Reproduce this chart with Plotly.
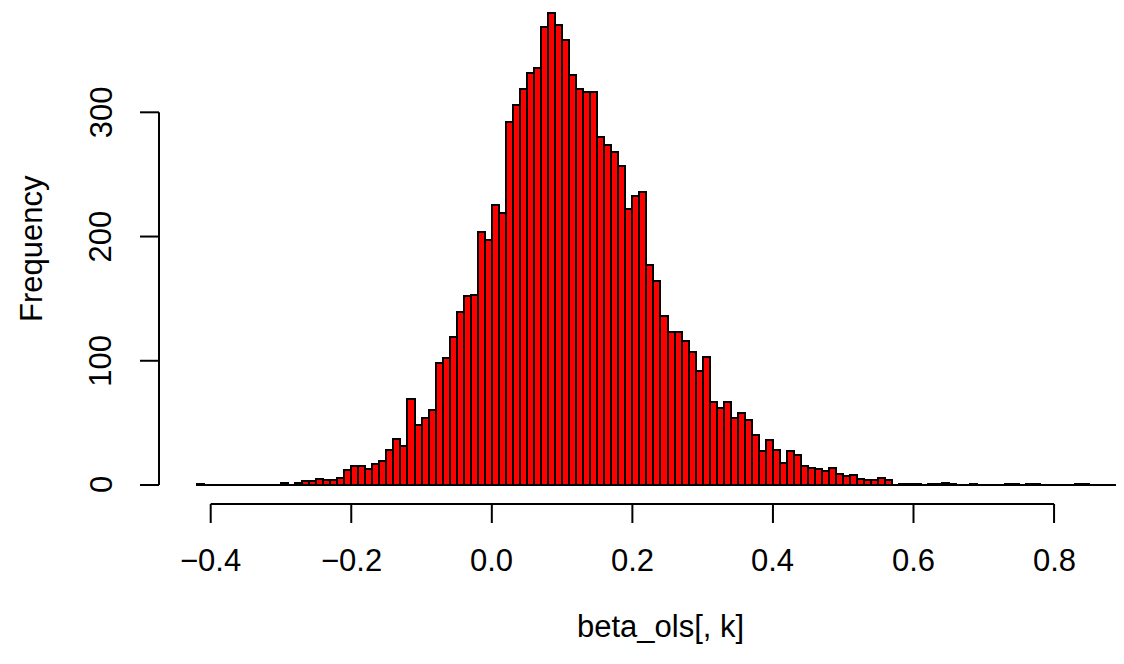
import plotly.graph_objects as go

# ---------------- data ----------------
bin_width = 0.01
bin_start = -0.42
counts = [
    1, 0, 0, 0, 0, 0, 0, 0, 0, 0, 0, 0,          # -0.42 .. -0.31
    2, 0, 2, 3, 3, 5, 4, 4, 6, 12,               # -0.30 .. -0.21
    15, 15, 13, 17, 19, 28, 37, 31, 69, 48,      # -0.20 .. -0.11
    54, 60, 98, 102, 119, 139, 152, 153, 204, 197,  # -0.10 .. -0.01
    225, 219, 292, 306, 319, 332, 336, 369, 380, 370,  # 0.00 .. 0.09
    358, 330, 319, 316, 316, 280, 274, 268, 257, 222,  # 0.10 .. 0.19
    233, 236, 177, 164, 136, 123, 123, 116, 107, 92,   # 0.20 .. 0.29
    103, 67, 62, 67, 54, 58, 52, 40, 27, 36,           # 0.30 .. 0.39
    28, 18, 27, 24, 15, 14, 13, 11, 14, 9,             # 0.40 .. 0.49
    7, 8, 5, 4, 4, 6, 4, 0, 1, 1,                      # 0.50 .. 0.59
    1, 0, 1, 1, 2, 1, 0, 0, 1, 0,                      # 0.60 .. 0.69
    0, 0, 0, 1, 1, 0, 1, 1, 0, 0,                      # 0.70 .. 0.79
    0, 0, 0, 1, 1, 0, 0, 0, 0, 0,                      # 0.80 .. 0.89
]
x_ticks = [-0.4, -0.2, 0.0, 0.2, 0.4, 0.6, 0.8]
x_tick_labels = ["\u22120.4", "\u22120.2", "0.0", "0.2", "0.4", "0.6", "0.8"]
y_ticks = [0, 100, 200, 300]
y_tick_labels = ["0", "100", "200", "300"]
x_title = "beta_ols[, k]"
y_title = "Frequency"

centers = [round(bin_start + bin_width * (i + 0.5), 4) for i in range(len(counts))]
bin_end = round(bin_start + bin_width * len(counts), 4)

# ---------------- geometry ----------------
W, H = 1124, 664
OFF = 8                 # page body margin in the browser
PX_X0, PX_PER_X = 210.7, 702.8     # screen px of x=-0.4, px per unit
PX_Y0, PX_PER_Y = 485.0, 1.2423    # screen px of y=0, px per count


def dx(sx):
    """screen pixel x -> data x"""
    return -0.4 + (sx - PX_X0) / PX_PER_X


def dy(sy):
    """screen pixel y -> data y"""
    return (PX_Y0 - sy) / PX_PER_Y


X_RANGE = [dx(OFF), dx(OFF + W)]
Y_RANGE = [dy(OFF + H), dy(OFF)]

FONT = "Liberation Sans, Arial, Helvetica, sans-serif"
FS = 31

fig = go.Figure()
fig.add_trace(go.Bar(
    x=centers, y=counts, width=bin_width,
    marker=dict(color="#FF0000", line=dict(color="black", width=2)),
    hoverinfo="x+y", showlegend=False,
))

shapes = []
shapes.append(dict(type="line", xref="x", yref="y", x0=bin_start, x1=bin_end,
                   y0=0, y1=0, line=dict(color="black", width=2), layer="above"))
# x axis
shapes.append(dict(type="line", xref="x", yref="y", x0=x_ticks[0], x1=x_ticks[-1],
                   y0=dy(504), y1=dy(504), line=dict(color="black", width=2)))
for t in x_ticks:
    shapes.append(dict(type="line", xref="x", yref="y", x0=t, x1=t,
                       y0=dy(504), y1=dy(523), line=dict(color="black", width=2)))
# y axis
shapes.append(dict(type="line", xref="x", yref="y", x0=dx(159), x1=dx(159),
                   y0=y_ticks[0], y1=y_ticks[-1], line=dict(color="black", width=2)))
for t in y_ticks:
    shapes.append(dict(type="line", xref="x", yref="y", x0=dx(140), x1=dx(159),
                       y0=t, y1=t, line=dict(color="black", width=2)))

annotations = []
for t, lab in zip(x_ticks, x_tick_labels):
    annotations.append(dict(x=t, y=dy(560), xref="x", yref="y", text=lab,
                            showarrow=False, xanchor="center", yanchor="middle",
                            font=dict(family=FONT, size=FS, color="black")))
for t, lab in zip(y_ticks, y_tick_labels):
    annotations.append(dict(x=dx(101), y=t, xref="x", yref="y", text=lab,
                            showarrow=False, xanchor="center", yanchor="middle",
                            textangle=-90,
                            font=dict(family=FONT, size=FS, color="black")))
annotations.append(dict(x=dx(660), y=dy(626), xref="x", yref="y", text=x_title,
                        showarrow=False, xanchor="center", yanchor="middle",
                        font=dict(family=FONT, size=FS, color="black")))
annotations.append(dict(x=dx(31), y=dy(249), xref="x", yref="y", text=y_title,
                        showarrow=False, xanchor="center", yanchor="middle",
                        textangle=-90,
                        font=dict(family=FONT, size=FS, color="black")))

fig.update_layout(
    width=W, height=H,
    margin=dict(l=0, r=0, t=0, b=0, pad=0),
    paper_bgcolor="white", plot_bgcolor="white",
    bargap=0,
    xaxis=dict(range=X_RANGE, visible=False, fixedrange=True),
    yaxis=dict(range=Y_RANGE, visible=False, fixedrange=True),
    shapes=shapes, annotations=annotations,
    showlegend=False,
)

fig.write_html("out.html")
